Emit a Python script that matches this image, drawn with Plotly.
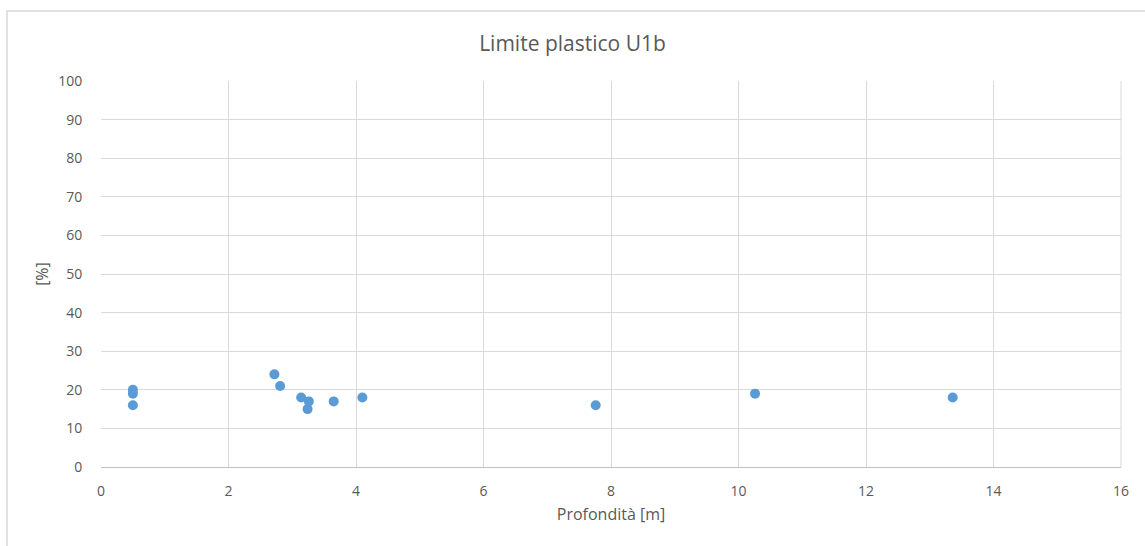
import plotly.graph_objects as go

# Depth [m] and plastic limit [%] samples
profondita = [0.5, 0.5, 0.5, 2.72, 2.81, 3.14, 3.26, 3.24, 3.65, 4.10, 7.76, 10.26, 13.36]
limite_plastico = [20, 19, 16, 24, 21, 18, 17, 15, 17, 18, 16, 19, 18]

x_ticks = [0, 2, 4, 6, 8, 10, 12, 14, 16]
y_ticks = [0, 10, 20, 30, 40, 50, 60, 70, 80, 90, 100]

text_color = "#595959"
grid_color = "#D9D9D9"
font_family = "Open Sans, Liberation Sans, sans-serif"

fig = go.Figure()
fig.add_trace(go.Scatter(
    x=profondita,
    y=limite_plastico,
    mode="markers",
    marker=dict(color="#5B9BD5", size=10, line=dict(width=0)),
    showlegend=False,
))

fig.update_layout(
    width=1145,
    height=546,
    margin=dict(l=101, r=24, t=81, b=79),
    paper_bgcolor="white",
    plot_bgcolor="white",
    font=dict(family=font_family, color=text_color, size=14),
    title=dict(
        text="Limite plastico U1b",
        x=0.5, xanchor="center",
        y=1 - 44 / 546, yanchor="middle",
        font=dict(size=21, color=text_color, family=font_family),
    ),
    xaxis=dict(
        range=[0, 16],
        tickvals=x_ticks,
        showgrid=True, gridcolor=grid_color, gridwidth=1,
        zeroline=False,
        showline=True, linecolor="#BFBFBF", linewidth=1,
        ticks="outside", ticklen=11, tickcolor="rgba(0,0,0,0)",
        tickfont=dict(size=14),
        title=dict(text="Profondità [m]", standoff=10, font=dict(size=16)),
        mirror=False,
    ),
    yaxis=dict(
        range=[0, 100],
        tickvals=y_ticks,
        showgrid=True, gridcolor=grid_color, gridwidth=1,
        zeroline=False,
        showline=False,
        ticks="outside", ticklen=15, tickcolor="rgba(0,0,0,0)",
        tickfont=dict(size=14),
        title=dict(text="[%]", standoff=5, font=dict(size=16)),
    ),
    shapes=[
        # right edge of the plotting area
        dict(type="line", xref="paper", yref="paper", x0=1, x1=1, y0=0, y1=1,
             line=dict(color=grid_color, width=1)),
        # chart frame
        dict(type="rect", xref="paper", yref="paper",
             x0=(7 - 101) / 1020, x1=(1160 - 101) / 1020,
             y0=(467 - 570) / 386, y1=(467 - 11) / 386,
             line=dict(color="#D9D9D9", width=1.5), layer="below"),
    ],
)

fig.write_html("out.html")
